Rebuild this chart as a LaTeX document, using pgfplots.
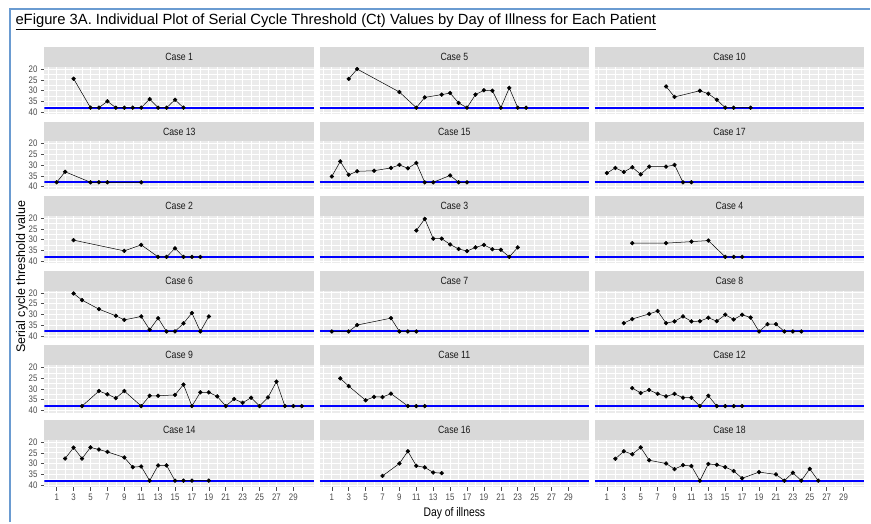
\documentclass[border=0pt]{standalone}
\usepackage{fontspec}
\setmainfont{Liberation Sans}[FakeStretch=0.83]
\newfontfamily\vlabelfont{Liberation Sans}
\usepackage{pgfplots}
\pgfplotsset{compat=1.18}

\definecolor{panelbg}{HTML}{EBEBEB}
\definecolor{stripbg}{HTML}{D9D9D9}
\definecolor{tickgray}{HTML}{4D4D4D}
\definecolor{stripfg}{HTML}{1A1A1A}
\definecolor{framebl}{HTML}{6A9BD1}
\definecolor{cutblue}{HTML}{0000FF}

\pgfplotsset{
  panel/.style={
    scale only axis, width=270pt, height=47.3pt,
    anchor=north west,
    xmin=-0.45, xmax=31.45, ymin=19, ymax=41, y dir=reverse,
    xtick={1,3,...,29}, minor xtick={0,2,...,30},
    ytick={20,25,30,35,40}, minor ytick={22.5,27.5,32.5,37.5},
    grid=both,
    major grid style={white, line width=0.9pt},
    minor grid style={white, line width=0.45pt},
    axis line style={draw=none},
    axis background/.style={fill=panelbg},
    tick align=outside, major tick length=3.5pt, minor tick length=0pt,
    xtick pos=bottom, ytick pos=left,
    ticklabel style={font=\fontsize{9.5}{10}\selectfont, text=tickgray},
    xticklabels={}, yticklabels={},
    xtick style={draw=none}, ytick style={draw=none},
    every axis title/.style={at={(0.5,1)}, anchor=south, fill=stripbg,
      minimum width=270pt, minimum height=20pt, inner sep=0pt, outer sep=0pt,
      text=stripfg, font=\fontsize{10.5}{11}\selectfont},
  },
  showx/.style={xticklabels={1,3,5,7,9,11,13,15,17,19,21,23,25,27,29},
    xtick style={draw=tickgray, line width=0.5pt}},
  showy/.style={yticklabels={20,25,30,35,40},
    ytick style={draw=tickgray, line width=0.5pt}},
  cutoff/.style={draw=cutblue, line width=2pt, forget plot},
  ctline/.style={black, line width=0.5pt, mark=*, mark size=1.9pt},
}

% #1 left, #2 panel top (px from top), #3 case, #4 options, #5 points
\newcommand{\casepanel}[5]{%
  \begin{axis}[panel, at={(#1pt,-#2pt)}, title={#3}, #4]
    \addplot[cutoff] coordinates {(-0.45,38) (31.45,38)};
    \addplot[ctline] coordinates {#5};
  \end{axis}}

\begin{document}
\begin{tikzpicture}
  \fill[white] (0,0) rectangle (871pt,-523pt);
  \draw[framebl, line width=2.5pt] (10pt,-523pt) -- (10pt,-9pt) -- (871pt,-9pt);
  \node[anchor=base west, font=\vlabelfont\fontsize{14.8}{17}\selectfont] at (12pt,-25pt)
    {\underline{eFigure 3A. Individual Plot of Serial Cycle Threshold (Ct) Values by Day of Illness for Each Patient}};

  % row 1
  \casepanel{44.5}{67}{Case 1}{showy}
    {(3,24.5) (5,38) (6,38) (7,35) (8,38) (9,38) (10,38) (11,38) (12,34) (13,38) (14,38) (15,34.3) (16,38)}
  \casepanel{320}{67}{Case 5}{}
    {(3,24.6) (4,20) (9,30.7) (11,38) (12,33.2) (14,31.9) (15,31.2) (16,35.8) (17,38) (18,31.9) (19,29.9) (20,30.1) (21,38) (22,28.8) (23,38) (24,38)}
  \casepanel{595.5}{67}{Case 10}{}
    {(8,28.1) (9,33) (12,30.1) (13,31.5) (14,34.3) (15,38) (16,38) (18,38)}

  % row 2
  \casepanel{44.5}{141.7}{Case 13}{showy}
    {(1,38) (2,33.1) (5,38) (6,38) (7,38) (11,38)}
  \casepanel{320}{141.7}{Case 15}{}
    {(1,35.3) (2,28.3) (3,34.5) (4,32.9) (6,32.6) (8,31.3) (9,29.9) (10,31.5) (11,29) (12,38) (13,38) (15,34.8) (16,38) (17,38)}
  \casepanel{595.5}{141.7}{Case 17}{}
    {(1,33.7) (2,31.3) (3,33.2) (4,31) (5,34.3) (6,30.7) (8,30.7) (9,29.9) (10,38) (11,38)}

  % row 3
  \casepanel{44.5}{216.4}{Case 2}{showy}
    {(3,30.2) (9,35.2) (11,32.4) (13,38) (14,38) (15,34) (16,38) (17,38) (18,38)}
  \casepanel{320}{216.4}{Case 3}{}
    {(11,25.7) (12,20.3) (13,29.5) (14,29.5) (15,32.2) (16,34.3) (17,35.3) (18,33.6) (19,32.4) (20,34.4) (21,34.7) (22,38) (23,33.6)}
  \casepanel{595.5}{216.4}{Case 4}{}
    {(4,31.6) (8,31.6) (11,30.9) (13,30.4) (15,38) (16,38) (17,38)}

  % row 4
  \casepanel{44.5}{291.1}{Case 6}{showy}
    {(3,20.3) (4,23.4) (6,27.6) (8,30.7) (9,32.6) (11,31) (12,37.2) (13,31.8) (14,38) (15,38) (16,34.2) (17,29.4) (18,38) (19,31)}
  \casepanel{320}{291.1}{Case 7}{}
    {(1,38) (3,38) (4,35) (8,31.8) (9,38) (10,38) (11,38)}
  \casepanel{595.5}{291.1}{Case 8}{}
    {(3,34.1) (4,32.2) (6,29.8) (7,28.5) (8,34.1) (9,33.3) (10,31) (11,33.3) (12,33.2) (13,31.6) (14,33.2) (15,30.2) (16,32.4) (17,30.2) (18,31.5) (19,38) (20,34.6) (21,34.6) (22,38) (23,38) (24,38)}

  % row 5
  \casepanel{44.5}{365.8}{Case 9}{showy}
    {(4,38) (6,31) (7,32.5) (8,34.3) (9,31) (11,38) (12,33.2) (13,33.2) (15,32.8) (16,28) (17,38) (18,31.6) (19,31.6) (20,33.5) (21,38) (22,34.7) (23,36.5) (24,34.1) (25,38) (26,34) (27,26.6) (28,38) (29,38) (30,38)}
  \casepanel{320}{365.8}{Case 11}{}
    {(2,25.1) (3,28.7) (5,35.3) (6,33.7) (7,33.8) (8,32.2) (10,38) (11,38) (12,38)}
  \casepanel{595.5}{365.8}{Case 12}{}
    {(4,29.6) (5,31.9) (6,30.5) (7,32.3) (8,33.5) (9,32.3) (10,34.1) (11,34.1) (12,38) (13,33.2) (14,38) (15,38) (16,38) (17,38)}

  % row 6
  \casepanel{44.5}{440.5}{Case 14}{showy, showx}
    {(2,27.7) (3,22.6) (4,27.7) (5,22.5) (6,23.5) (7,24.6) (9,27.2) (10,31.7) (11,31.4) (12,38) (13,30.9) (14,30.9) (15,38) (16,38) (17,38) (19,38)}
  \casepanel{320}{440.5}{Case 16}{showx}
    {(7,35.8) (9,30) (10,24.3) (11,31.1) (12,31.8) (13,34.2) (14,34.5)}
  \casepanel{595.5}{440.5}{Case 18}{showx}
    {(2,27.8) (3,24.3) (4,25.7) (5,22.5) (6,28.5) (8,30) (9,32.6) (10,30.8) (11,31.2) (12,38) (13,30.2) (14,30.6) (15,31.7) (16,33.5) (17,36.9) (19,34) (21,35.1) (22,38) (23,34.3) (24,38) (25,32.5) (26,38)}

  \node[font=\fontsize{12.5}{13}\selectfont] at (455pt,-514pt) {Day of illness};
  \node[rotate=90, font=\vlabelfont\fontsize{12.5}{13}\selectfont] at (22pt,-277pt) {Serial cycle threshold value};
\end{tikzpicture}
\end{document}
